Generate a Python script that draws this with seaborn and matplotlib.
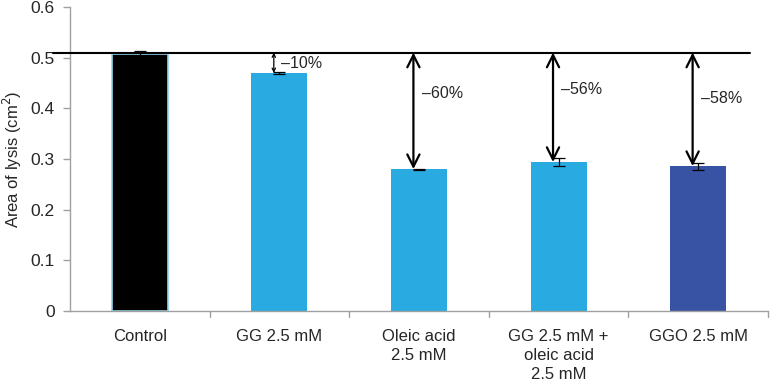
import matplotlib
matplotlib.use("Agg")
import matplotlib.pyplot as plt
import seaborn as sns
import pandas as pd
import numpy as np

categories = ["Control", "GG 2.5 mM", "Oleic acid\n2.5 mM", "GG 2.5 mM +\noleic acid\n2.5 mM", "GGO 2.5 mM"]
values = [0.508, 0.470, 0.280, 0.294, 0.286]
errors = [0.006, 0.002, 0.001, 0.007, 0.007]
bar_colors = ["#000000", "#29ABE2", "#29ABE2", "#29ABE2", "#3953A4"]
reduction_labels = ["", "\u201310%", "\u201360%", "\u201356%", "\u201358%"]
ref_level = 0.51
label_y = [None, 0.488, 0.43, 0.437, 0.42]
yticks = [0, 0.1, 0.2, 0.3, 0.4, 0.5, 0.6]
ytick_labels = ["0", "0.1", "0.2", "0.3", "0.4", "0.5", "0.6"]

sns.set_style("white")
plt.rcParams["font.family"] = ["Liberation Sans", "DejaVu Sans"]

df = pd.DataFrame({"cat": categories, "val": values})
fig = plt.figure(figsize=(7.7, 3.83), dpi=100)
ax = fig.add_axes([70/770, 1 - 311/383, 698/770, 304/383])

sns.barplot(data=df, x="cat", y="val", hue="cat", palette=bar_colors, legend=False,
            width=0.4, ax=ax, errorbar=None, saturation=1)
for i, p in enumerate(ax.patches):
    if i == 0:
        p.set_edgecolor("#8DD3F0")
        p.set_linewidth(1.2)
    else:
        p.set_edgecolor("none")

ax.errorbar(range(len(values)), values, yerr=errors, fmt="none", ecolor="black",
            elinewidth=0.9, capsize=4, capthick=0.9)

ax.set_ylim(0, 0.6)
ax.set_xlim(-0.5, len(categories) - 0.5)
ax.set_yticks(yticks)
ax.set_yticklabels(ytick_labels, fontsize=12.5)
ax.set_xticks(range(len(categories)))
ax.set_xticklabels(categories, fontsize=12, linespacing=1.35)
ax.tick_params(axis="x", length=0, pad=13)
ax.tick_params(axis="y", left=True, length=5, color="#A0A0A0", width=1, pad=6)
for x in np.arange(0.5, len(categories) - 0.5, 1.0):
    ax.plot([x, x], [0, -0.012], color="#A0A0A0", lw=1, clip_on=False)
ax.plot([len(categories) - 0.5] * 2, [0, -0.012], color="#A0A0A0", lw=1, clip_on=False)

sns.despine(ax=ax)
for s in ["left", "bottom"]:
    ax.spines[s].set_color("#A0A0A0")
    ax.spines[s].set_linewidth(1)

ax.set_xlabel("")
ax.set_ylabel("Area of lysis (cm$^2$)", fontsize=12)
ax.yaxis.set_label_coords(-0.066, 0.5)

ax.plot([-0.62, 4.37], [ref_level, ref_level], color="black", lw=1.5, clip_on=False, zorder=5)

for i in range(1, len(values)):
    xa = i - 0.04
    small = i == 1
    ax.annotate("", xy=(xa, values[i]), xytext=(xa, ref_level),
                arrowprops=dict(arrowstyle="<->", lw=0.9 if small else 1.6,
                                mutation_scale=6 if small else 22, color="black",
                                shrinkA=0, shrinkB=0), zorder=6)
    ax.text(xa + (0.05 if small else 0.06), label_y[i], reduction_labels[i],
            fontsize=11.5, va="center", ha="left")

fig.savefig("out.png", dpi=100)
